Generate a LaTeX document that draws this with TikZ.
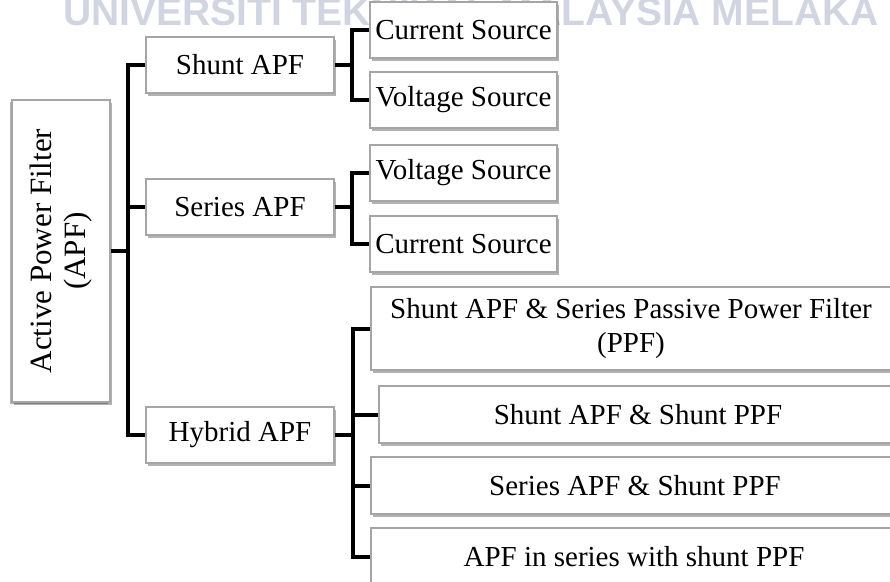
\documentclass[tikz,border=0pt]{standalone}
\usepackage{fontspec}
\setmainfont{Liberation Serif}
\newfontfamily\markfont{Liberation Sans}
\usetikzlibrary{shadows}

\definecolor{wmark}{RGB}{208,213,225}
\definecolor{boxline}{RGB}{165,165,165}

\tikzset{
  box/.style={draw=boxline, line width=1.2pt, fill=white, inner sep=0pt,
    align=center, font=\fontsize{29}{34}\selectfont,
    drop shadow={shadow xshift=1.5pt, shadow yshift=-2.5pt, fill=black, opacity=.3}},
  midbox/.style={box, minimum width=188pt, minimum height=56pt},
  leafbox/.style={box, minimum width=187pt, minimum height=56pt},
  link/.style={line width=4pt}
}

\begin{document}
\begin{tikzpicture}[x=1pt,y=-1pt]
  \useasboundingbox (0,0) rectangle (890,581);
  \clip (0,0) rectangle (890,581);

  \node [font=\markfont\bfseries\fontsize{39}{39}\selectfont, text=wmark, anchor=base] (mark) at (471,25)
    {UNIVERSITI TEKNIKAL MALAYSIA MELAKA};

  % root
  \node [box, rotate=90, minimum width=302pt, minimum height=98pt,
    font=\fontsize{31}{34}\selectfont,
    drop shadow={shadow xshift=-2.5pt, shadow yshift=-1.5pt, fill=black, opacity=.3}]
    (apf) at (61,251) {Active Power Filter\\(APF)};

  % second level
  \node [midbox] (shunt) at (240,65) {Shunt APF};
  \node [midbox] (series) at (240,207) {Series APF};
  \node [midbox] (hybrid) at (240,435) {Hybrid APF};

  % sources
  \node [leafbox] (cur1) at (463.5,30) {Current Source};
  \node [leafbox] (volt1) at (463.5,100) {Voltage Source};
  \node [leafbox] (volt2) at (463.5,173) {Voltage Source};
  \node [leafbox] (cur2) at (463.5,244) {Current Source};

  % hybrid types
  \node [box, minimum width=520pt, minimum height=83pt] (hyb1) at (631,328.5)
    {Shunt APF \& Series Passive Power Filter\\(PPF)};
  \node [box, minimum width=518pt, minimum height=57pt] (hyb2) at (638,414.5)
    {Shunt APF \& Shunt PPF};
  \node [box, minimum width=528pt, minimum height=57pt] (hyb3) at (635,485.5)
    {Series APF \& Shunt PPF};
  \node [box, minimum width=526pt, minimum height=57pt] (hyb4) at (634,556.5)
    {APF in series with shunt PPF};

  % connectors
  \coordinate (j0) at (128,251);
  \draw [link] (apf.south) -- (j0);
  \draw [link] (shunt.west) -| (j0) |- (hybrid.west);
  \draw [link] (j0) |- (series.west);

  \coordinate (j1) at (352,65);
  \draw [link] (shunt.east) -- (j1);
  \draw [link] (cur1.west) -| (j1) |- (volt1.west);

  \coordinate (j2) at (352,207);
  \draw [link] (series.east) -- (j2);
  \draw [link] (volt2.west) -| (j2) |- (cur2.west);

  \coordinate (j3) at (353,435);
  \draw [link] (hybrid.east) -- (j3);
  \draw [link] (hyb1.west) -| (j3) |- (hyb4.west);
  \draw [link] (j3) |- (hyb2.west);
  \draw [link] (j3) |- (hyb3.west);
\end{tikzpicture}
\end{document}
